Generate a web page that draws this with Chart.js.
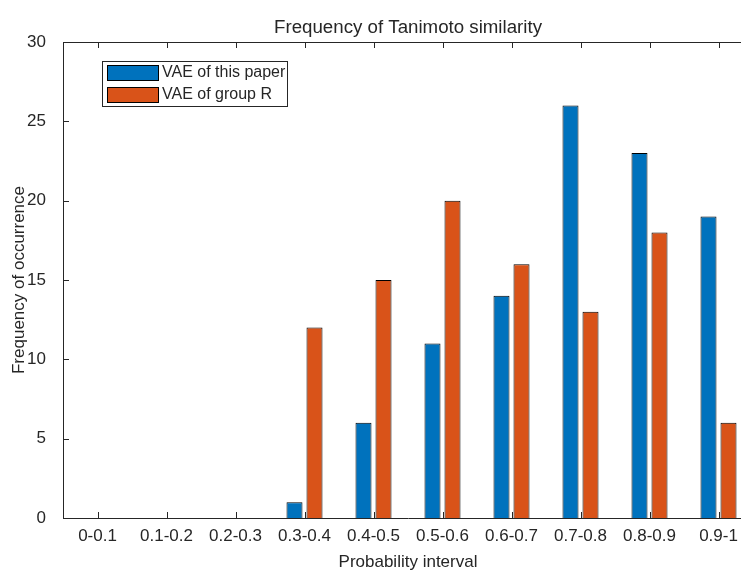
<!DOCTYPE html>
<html>
<head>
<meta charset="utf-8">
<script src="https://cdn.jsdelivr.net/npm/chart.js@4"></script>
<style>
  html, body { margin: 0; padding: 0; background: #fff; overflow: hidden; }
  #wrap { width: 741px; height: 570px; overflow: hidden; }
</style>
</head>
<body>
<div id="wrap"><canvas id="chartFreq" width="770" height="570"></canvas></div>
<script>
// Data
const categories = ['0-0.1', '0.1-0.2', '0.2-0.3', '0.3-0.4', '0.4-0.5',
                    '0.5-0.6', '0.6-0.7', '0.7-0.8', '0.8-0.9', '0.9-1'];
const vaeThisPaper = [0, 0, 0, 1, 6, 11, 14, 26, 23, 19];
const vaeGroupR = [0, 0, 0, 12, 15, 20, 16, 13, 18, 6];
const yTicks = [0, 5, 10, 15, 20, 25, 30];

const fontFamily = '"Liberation Sans", Arial, Helvetica, sans-serif';
const textColor = '#262626';

// Inward ticks, top border, title and legend, MATLAB style
const matlabAxes = {
    id: 'matlabAxes',
    afterDraw(chart) {
        const ctx = chart.ctx;
        const area = chart.chartArea;
        const x = chart.scales.x;
        const y = chart.scales.y;
        ctx.save();
        ctx.strokeStyle = textColor;
        ctx.lineWidth = 1;
        ctx.beginPath();
        ctx.moveTo(area.left, area.top + 0.5);
        ctx.lineTo(area.right, area.top + 0.5);
        categories.forEach((c, i) => {
            const px = Math.round(x.getPixelForValue(i)) + 0.5;
            ctx.moveTo(px, area.bottom);
            ctx.lineTo(px, area.bottom - 6);
            ctx.moveTo(px, area.top);
            ctx.lineTo(px, area.top + 6);
        });
        yTicks.forEach(v => {
            const py = Math.round(y.getPixelForValue(v)) + 0.5;
            ctx.moveTo(area.left, py);
            ctx.lineTo(area.left + 6, py);
        });
        ctx.stroke();

        // title
        ctx.fillStyle = textColor;
        ctx.font = '18.7px ' + fontFamily;
        ctx.textAlign = 'center';
        ctx.textBaseline = 'alphabetic';
        ctx.fillText('Frequency of Tanimoto similarity', (area.left + area.right) / 2, area.top - 9);

        // legend
        const lx = 102, ly = 61;
        ctx.fillStyle = '#fff';
        ctx.fillRect(lx, ly, 185, 45);
        ctx.strokeStyle = '#262626';
        ctx.strokeRect(lx + 0.5, ly + 0.5, 185, 45);
        ctx.font = '16px ' + fontFamily;
        ctx.textAlign = 'left';
        ctx.textBaseline = 'middle';
        chart.data.datasets.forEach((ds, i) => {
            const sy = ly + 4 + i * 22;
            ctx.fillStyle = ds.backgroundColor;
            ctx.fillRect(lx + 5, sy, 51, 15);
            ctx.strokeStyle = '#000';
            ctx.strokeRect(lx + 5.5, sy + 0.5, 51, 15);
            ctx.fillStyle = textColor;
            ctx.fillText(ds.label, lx + 60, sy + 8);
        });
        ctx.restore();
    }
};

const ctx = document.getElementById('chartFreq').getContext('2d');
new Chart(ctx, {
    type: 'bar',
    data: {
        labels: categories,
        datasets: [{
            label: 'VAE of this paper',
            data: vaeThisPaper,
            backgroundColor: '#0072BD',
            borderColor: '#000',
            borderWidth: 1,
            borderSkipped: 'start',
            barPercentage: 0.8,
            categoryPercentage: 0.58
        }, {
            label: 'VAE of group R',
            data: vaeGroupR,
            backgroundColor: '#D95319',
            borderColor: '#000',
            borderWidth: 1,
            borderSkipped: 'start',
            barPercentage: 0.8,
            categoryPercentage: 0.58
        }]
    },
    options: {
        responsive: false,
        animation: false,
        layout: { padding: { top: 42, right: 17, left: 0, bottom: 0 } },
        plugins: {
            legend: { display: false },
            tooltip: { enabled: false }
        },
        scales: {
            x: {
                grid: { display: false },
                border: { display: true, color: textColor, width: 1 },
                ticks: {
                    color: textColor,
                    font: { family: fontFamily, size: 17 },
                    padding: 0,
                    maxRotation: 0,
                    autoSkip: false
                },
                title: {
                    display: true,
                    text: 'Probability interval',
                    color: textColor,
                    font: { family: fontFamily, size: 17 },
                    padding: { top: 0, bottom: -3 }
                },
                afterFit(scale) { scale.height = 52; }
            },
            y: {
                min: 0,
                max: 30,
                grid: { display: false },
                border: { display: true, color: textColor, width: 1 },
                ticks: {
                    stepSize: 5,
                    color: textColor,
                    font: { family: fontFamily, size: 17 },
                    padding: 9
                },
                title: {
                    display: true,
                    text: 'Frequency of occurrence',
                    color: textColor,
                    font: { family: fontFamily, size: 17 },
                    padding: { top: 9, bottom: 2 }
                },
                afterFit(scale) { scale.width = 63; }
            }
        }
    },
    plugins: [matlabAxes]
});
</script>
</body>
</html>
